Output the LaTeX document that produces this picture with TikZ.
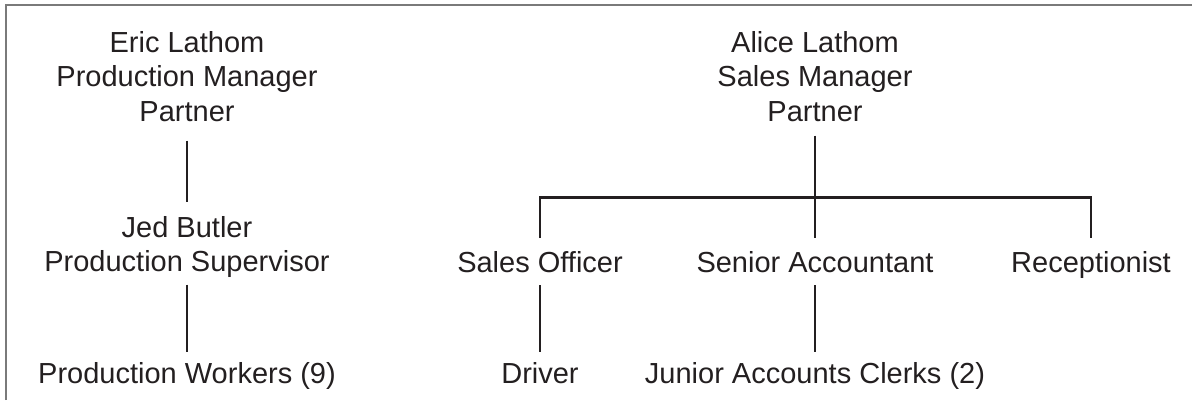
\documentclass[tikz,border=0pt]{standalone}
\usepackage{fontspec}
\setmainfont{Liberation Sans}
\definecolor{ink}{HTML}{231F20}
\definecolor{frame}{HTML}{7A7A7A}
\begin{document}
\begin{tikzpicture}[x=1pt,y=-1pt,
  every node/.style={inner sep=0pt, outer sep=0pt, text=ink, font=\fontsize{29}{34.5}\selectfont},
  multi/.style={align=center, anchor=north},
  single/.style={anchor=base, text height=21pt, text depth=6pt},
  link/.style={draw=ink, line width=2.7pt}]
\useasboundingbox (0,0) rectangle (1192,400);
\draw[frame, line width=2pt] (6,400) -- (6,5) -- (1192,5);

\node[multi] (eric) at (187,31.2) {Eric Lathom\\Production Manager\\Partner};
\node[multi] (jed) at (187,216.2) {Jed Butler\\Production Supervisor};
\node[single] (workers) at (187,383) {Production Workers (9)};

\node[multi] (alice) at (815,31.2) {Alice Lathom\\Sales Manager\\Partner};
\node[single] (sales) at (540,272) {Sales Officer};
\node[single] (senior) at (815,272) {Senior Accountant};
\node[single] (recep) at (1091,272) {Receptionist};
\node[single] (driver) at (540,383) {Driver};
\node[single] (junior) at (815,383) {Junior Accounts Clerks (2)};
\coordinate (bar) at (815,197.5);

\draw[link] ([yshift=-19pt]eric.south) -- ([yshift=14pt]jed.north);
\draw[link] ([yshift=-7pt]jed.south) -- ([yshift=10pt]workers.north);
\draw[link] ([yshift=-14pt]alice.south) -- ([yshift=13pt]senior.north);
\draw[link] ([yshift=13pt]sales.north) |- (bar) -| ([yshift=13pt]recep.north);
\draw[link] ([yshift=-7pt]sales.south) -- ([yshift=10pt]driver.north);
\draw[link] ([yshift=-7pt]senior.south) -- ([yshift=10pt]junior.north);
\end{tikzpicture}
\end{document}
